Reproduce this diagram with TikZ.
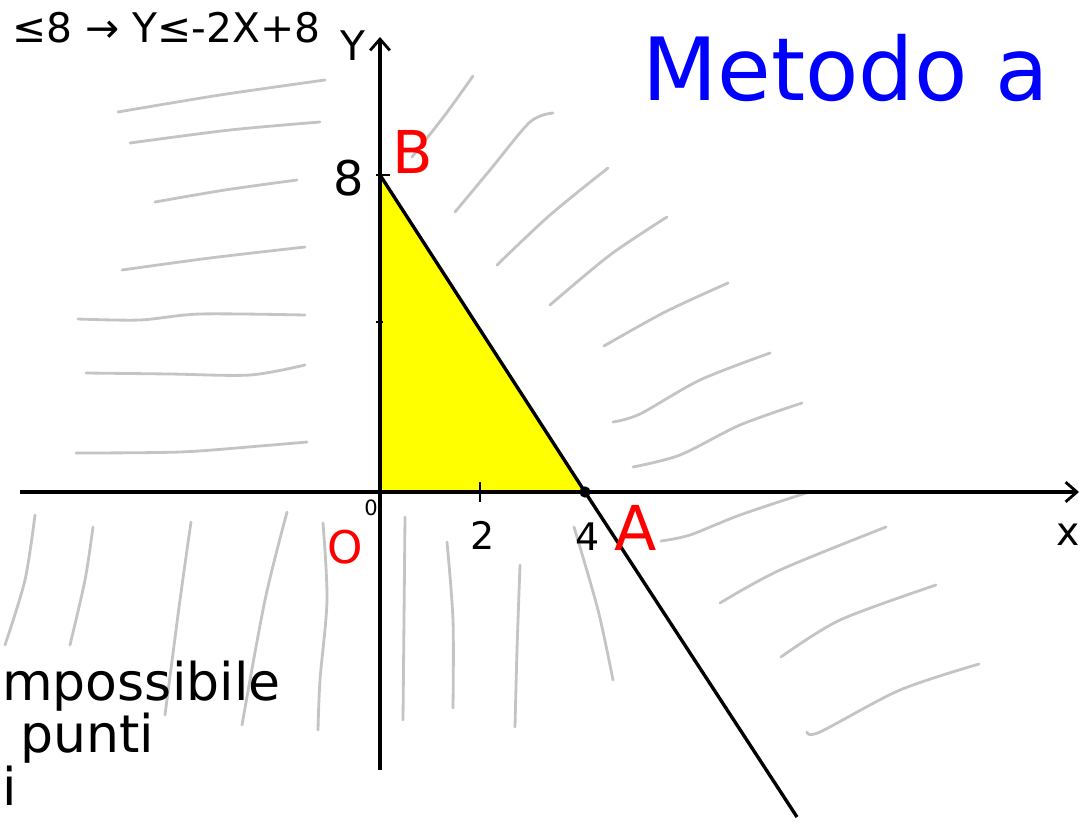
\documentclass[tikz,border=0pt]{standalone}
\usepackage{fontspec}
\setmainfont{DejaVu Sans}
\usepackage{tikz}
\usepackage{xcolor}
\definecolor{sketchGrey}{HTML}{C4C4C4}
\definecolor{sketchYellow}{HTML}{FFFF00}
\definecolor{sketchRed}{HTML}{FF0000}
\definecolor{sketchBlue}{HTML}{0000FF}
\usetikzlibrary{arrows.meta}
\tikzset{
  hatch/.style={draw=sketchGrey, line width=2pt, line cap=round, line join=round},
  axisline/.style={draw=black, line width=2.8pt, -{Straight Barb[length=8pt,width=14pt,line width=2pt]}},
  boundary/.style={draw=black, line width=2.4pt},
  pointlabel/.style={text=sketchRed, inner sep=0pt, anchor=base west},
  ticklabel/.style={inner sep=0pt, anchor=base}
}

\begin{document}
\begin{tikzpicture}[x=0.025cm, y=-0.025cm]
  \useasboundingbox (0,0) rectangle (1081,829);

  % points
  \coordinate (O) at (380,492);
  \coordinate (A) at (585,492);
  \coordinate (B) at (380,175);
  \coordinate (lineEnd) at (797,817);
  \coordinate (xStart) at (20,492);
  \coordinate (xEnd) at (1079,492);
  \coordinate (yStart) at (380,770);
  \coordinate (yEnd) at (380,37);

  % feasible region
  \filldraw[fill=sketchYellow, draw=none] (O) -- (A) -- (B) -- cycle;

  % hatching, top left
  \draw[hatch] plot[smooth] coordinates {(118,112) (220,95) (325,80)};
  \draw[hatch] plot[smooth] coordinates {(130,143) (230,130) (320,122)};
  \draw[hatch] plot[smooth] coordinates {(155,202) (225,190) (297,180)};
  \draw[hatch] plot[smooth] coordinates {(122,270) (210,258) (305,247)};
  \draw[hatch] plot[smooth] coordinates {(78,319) (140,320) (200,314) (305,315)};
  \draw[hatch] plot[smooth] coordinates {(86,373) (170,374) (250,375) (305,365)};
  \draw[hatch] plot[smooth] coordinates {(76,453) (180,452) (260,446) (307,442)};

  % hatching, top right
  \draw[hatch] plot[smooth] coordinates {(412,157) (445,115) (473,76)};
  \draw[hatch] plot[smooth] coordinates {(455,212) (490,170) (530,122) (553,113)};
  \draw[hatch] plot[smooth] coordinates {(497,265) (550,215) (608,168)};
  \draw[hatch] plot[smooth] coordinates {(550,305) (610,255) (667,217)};
  \draw[hatch] plot[smooth] coordinates {(604,346) (665,312) (728,283)};
  \draw[hatch] plot[smooth] coordinates {(613,422) (640,414) (700,380) (770,353)};
  \draw[hatch] plot[smooth] coordinates {(633,467) (680,455) (740,425) (802,403)};

  % hatching, bottom right
  \draw[hatch] plot[smooth] coordinates {(661,541) (690,535) (740,515) (809,492)};
  \draw[hatch] plot[smooth] coordinates {(720,603) (780,570) (886,527)};
  \draw[hatch] plot[smooth] coordinates {(781,657) (840,620) (936,585)};
  \draw[hatch] plot[smooth] coordinates {(807,732) (820,732) (900,690) (979,664)};

  % hatching, bottom left
  \draw[hatch] plot[smooth] coordinates {(35,515) (25,580) (5,645)};
  \draw[hatch] plot[smooth] coordinates {(93,527) (85,580) (70,645)};
  \draw[hatch] plot[smooth] coordinates {(191,522) (180,600) (165,715)};
  \draw[hatch] plot[smooth] coordinates {(287,512) (265,600) (242,725)};
  \draw[hatch] plot[smooth] coordinates {(323,523) (327,600) (320,680) (318,730)};

  % hatching, below the region
  \draw[hatch] plot[smooth] coordinates {(405,517) (404,620) (403,720)};
  \draw[hatch] plot[smooth] coordinates {(447,542) (453,620) (453,708)};
  \draw[hatch] plot[smooth] coordinates {(520,565) (517,650) (515,727)};
  \draw[hatch] plot[smooth] coordinates {(574,527) (598,610) (613,680)};

  % axes
  \draw[axisline] (xStart) -- (xEnd);
  \draw[axisline] (yStart) -- (yEnd);
  \draw[line width=2pt] (480,482) -- (480,502);
  \draw[line width=1.5pt] (376,322) -- (383,322);
  \draw[line width=2pt] (376,175) -- (390,175);

  % constraint line
  \draw[boundary] (B) -- (A) -- (lineEnd);
  \fill (A) circle (4pt);

  % labels
  \node[pointlabel, font=\fontsize{42}{42}\selectfont] (labB) at (392,173) {B};
  \node[pointlabel, font=\fontsize{44}{44}\selectfont] (labA) at (614,550) {A};
  \node[pointlabel, font=\fontsize{32}{32}\selectfont] (labO) at (327,563) {O};
  \node[ticklabel, font=\fontsize{34}{34}\selectfont] (tick8) at (349,195) {8};
  \node[ticklabel, font=\fontsize{15}{15}\selectfont] (tick0) at (371,515) {0};
  \node[ticklabel, font=\fontsize{27}{27}\selectfont] (tick2) at (483,549) {2};
  \node[ticklabel, font=\fontsize{27}{27}\selectfont] (tick4) at (588,550) {4};
  \node[ticklabel, anchor=base west, font=\fontsize{29}{29}\selectfont] (yLab) at (340,60) {Y};
  \node[ticklabel, anchor=base west, font=\fontsize{28}{28}\selectfont] (xLab) at (1056,545) {x};

  % notes
  \node[ticklabel, anchor=base west, font=\fontsize{29}{29}\selectfont] (ineq) at (12,42) {≤8 → Y≤-2X+8};
  \node[ticklabel, anchor=base west, text=sketchBlue, font=\fontsize{62}{62}\selectfont] (title) at (642,100) {Metodo a};
  \node[ticklabel, anchor=base west, font=\fontsize{37}{37}\selectfont] (note1) at (2,700) {mpossibile};
  \node[ticklabel, anchor=base west, font=\fontsize{37}{37}\selectfont] (note2) at (20,752) {punti};
  \node[ticklabel, anchor=base west, font=\fontsize{37}{37}\selectfont] (note3) at (2,805) {i};
\end{tikzpicture}
\end{document}
